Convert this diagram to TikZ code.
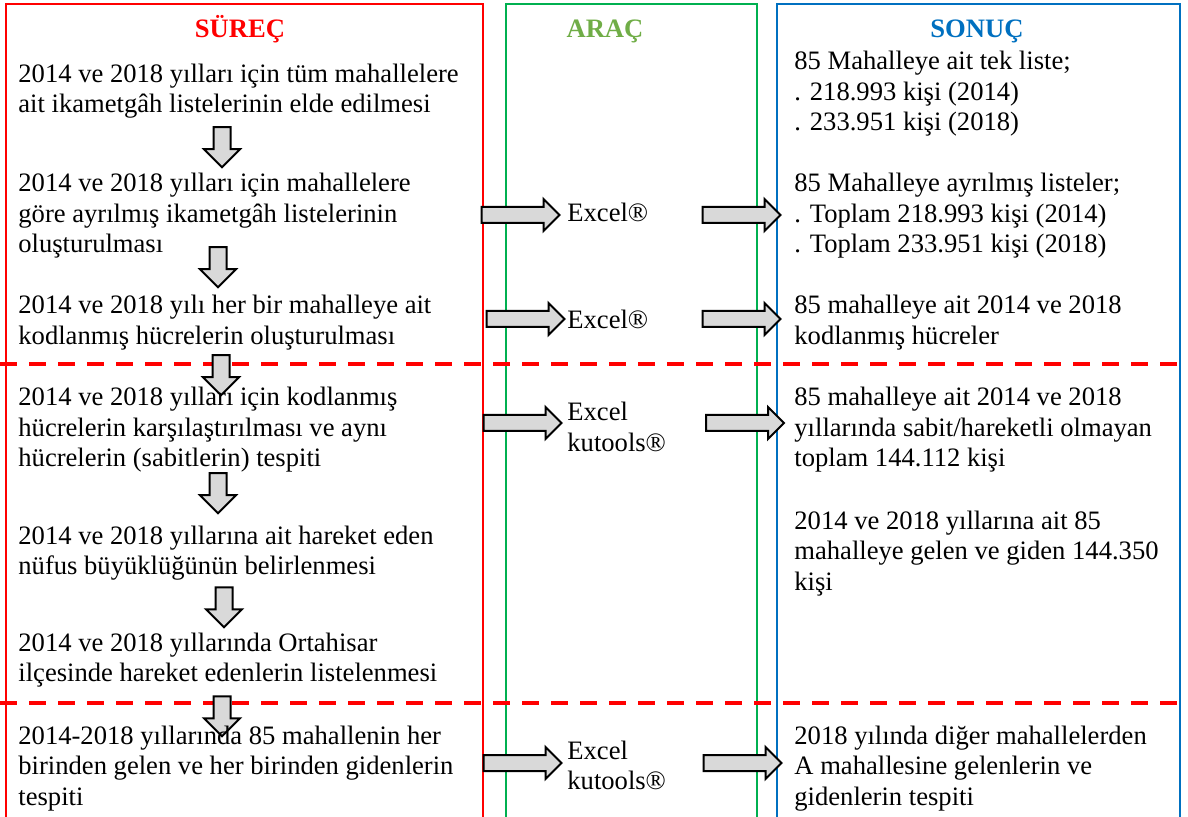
\documentclass[tikz,border=0pt]{standalone}
\usepackage{fontspec}
\setmainfont{Liberation Serif}
\usetikzlibrary{shapes.arrows,positioning}
\definecolor{surecRed}{RGB}{255,0,0}
\definecolor{aracGreen}{RGB}{112,173,71}
\definecolor{aracLine}{RGB}{0,176,80}
\definecolor{sonucBlue}{RGB}{0,112,192}
\definecolor{okGray}{RGB}{217,217,217}
\newcommand{\metinFont}{\fontsize{13.3}{15.25}\selectfont}
\tikzset{
	metin/.style={anchor=base west, align=left, inner sep=0pt, font=\metinFont},
	baslik/.style={anchor=base, inner sep=0pt, font=\metinFont\bfseries},
	sagok/.style={single arrow, draw=black, fill=okGray, line width=1pt, inner xsep=0pt, inner ysep=3.5pt, single arrow head extend=4pt, minimum height=39pt},
	asagiok/.style={sagok, rotate=-90, inner ysep=3.75pt, single arrow head extend=4.75pt, minimum height=20pt},
	ayrac/.style={draw=surecRed, line width=1.75pt, dash pattern=on 8.5pt off 6pt},
}

\begin{document}
\begin{tikzpicture}[x=0.5pt, y=-0.5pt]
		\useasboundingbox (0,0) rectangle (1188,817);
		% columns
		\draw[surecRed, line width=0.75pt] (6,820) -- (6,4) -- (483,4) -- (483,820);
		\draw[aracLine, line width=0.75pt] (506,820) -- (506,4) -- (757,4) -- (757,820);
		\draw[sonucBlue, line width=0.75pt] (777,820) -- (777,4) -- (1180,4) -- (1180,820);
		\node[baslik, text=surecRed] (surec) at (240,38) {SÜREÇ};
		\node[baslik, text=aracGreen] (arac) at (605,38) {ARAÇ};
		\node[baslik, text=sonucBlue] (sonuc) at (977,38) {SONUÇ};
		% phase separators
		\draw[ayrac] (0,364) -- (1188,364);
		\draw[ayrac] (0,703) -- (1188,703);
		% down arrows (drawn first)
		\node[asagiok] (ok12) at (222,143) {};
		\node[asagiok] (ok23) at (218,263) {};
		\node[asagiok] (ok34) at (221,371) {};
		\node[asagiok] (ok45) at (218,489) {};
		\node[asagiok] (ok56) at (224,603) {};
		\node[asagiok] (ok67) at (222,712) {};
		% SUREC (positions = baseline of last line)
		\node[metin] (s1) at (18,113) {2014 ve 2018 yılları için tüm mahallelere\\ait ikametgâh listelerinin elde edilmesi};
		\node[metin] (s2) at (18,253) {2014 ve 2018 yılları için mahallelere\\göre ayrılmış ikametgâh listelerinin\\oluşturulması};
		\node[metin] (s3) at (18,344.5) {2014 ve 2018 yılı her bir mahalleye ait\\kodlanmış hücrelerin oluşturulması};
		\node[metin] (s4) at (18,467) {2014 ve 2018 yılları için kodlanmış\\hücrelerin karşılaştırılması ve aynı\\hücrelerin (sabitlerin) tespiti};
		\node[metin] (s5) at (18,574.5) {2014 ve 2018 yıllarına ait hareket eden\\nüfus büyüklüğünün belirlenmesi};
		\node[metin] (s6) at (18,681.5) {2014 ve 2018 yıllarında Ortahisar\\ilçesinde hareket edenlerin listelenmesi};
		\node[metin] (s7) at (18,805) {2014-2018 yıllarında 85 mahallenin her\\birinden gelen ve her birinden gidenlerin\\tespiti};
		% ARAC
		\node[metin] (a2) at (567,222) {Excel®};
		\node[metin] (a3) at (567,329) {Excel®};
		\node[metin] (a4) at (567,451.5) {Excel\\kutools®};
		\node[metin] (a7) at (567,789.5) {Excel\\kutools®};
		% SONUC
		\node[metin] (c1) at (794,131) {85 Mahalleye ait tek liste;\\. 218.993 kişi (2014)\\. 233.951 kişi (2018)};
		\node[metin] (c2) at (794,253) {85 Mahalleye ayrılmış listeler;\\. Toplam 218.993 kişi (2014)\\. Toplam 233.951 kişi (2018)};
		\node[metin] (c3) at (794,344.5) {85 mahalleye ait 2014 ve 2018\\kodlanmış hücreler};
		\node[metin] (c4) at (794,467) {85 mahalleye ait 2014 ve 2018\\yıllarında sabit/hareketli olmayan\\toplam 144.112 kişi};
		\node[metin] (c5) at (794,590) {2014 ve 2018 yıllarına ait 85\\mahalleye gelen ve giden 144.350\\kişi};
		\node[metin] (c6) at (794,805) {2018 yılında diğer mahallelerden\\A mahallesine gelenlerin ve\\gidenlerin tespiti};
		% right arrows
		\node[sagok] (ok2a) at (516.5,215) {};
		\node[sagok] (ok2b) at (737.5,215) {};
		\node[sagok] (ok3a) at (521.5,319) {};
		\node[sagok] (ok3b) at (737.5,319) {};
		\node[sagok] (ok4a) at (518.5,423) {};
		\node[sagok] (ok4b) at (741,423) {};
		\node[sagok] (ok7a) at (518.5,763) {};
		\node[sagok] (ok7b) at (738.5,763) {};
	\end{tikzpicture}
\end{document}
